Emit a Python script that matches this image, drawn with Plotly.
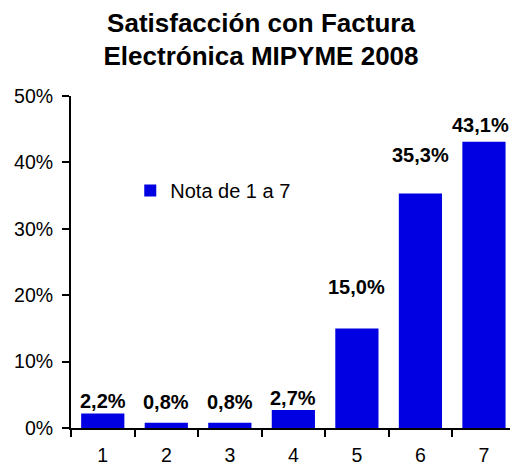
import plotly.graph_objects as go

categories = ["1", "2", "3", "4", "5", "6", "7"]
values = [0.022, 0.008, 0.008, 0.027, 0.150, 0.353, 0.431]
series_name = "Nota de 1 a 7"
title_lines = ["Satisfacción con Factura", "Electrónica MIPYME 2008"]
y_tickvals = [0, 0.1, 0.2, 0.3, 0.4, 0.5]
y_ticktext = ["0%", "10%", "20%", "30%", "40%", "50%"]

# label offsets (px) relative to bar top, as placed in the original
label_shift = [12, 21, 21, 12, 41, 39, 16.5]
label_xshift = [0, 0, 0, 0, 0, 0, -3]

FONT = "Liberation Sans, Arial, sans-serif"

fig = go.Figure()
fig.add_trace(go.Bar(
    x=categories, y=values, name=series_name,
    marker=dict(color="#0000E2", line=dict(width=0)),
    showlegend=True, hoverinfo="skip",
))

for i, (v, s, xs) in enumerate(zip(values, label_shift, label_xshift)):
    fig.add_annotation(
        x=i, y=v, xref="x", yref="y",
        text="<b>" + f"{v*100:.1f}".replace(".", ",") + "%</b>",
        showarrow=False, yanchor="middle", yshift=s, xshift=xs,
        font=dict(family=FONT, size=20, color="black"),
    )

fig.update_layout(
    width=510, height=466,
    paper_bgcolor="white", plot_bgcolor="white",
    margin=dict(l=70.5, r=0, t=96, b=38, autoexpand=False),
    bargap=0.32,
    title=dict(
        text="<b>" + "<br>".join(title_lines) + "</b>",
        x=261 / 510, xref="container", xanchor="center",
        y=0.932, yref="container", yanchor="top",
        font=dict(family=FONT, size=26, color="black"),
    ),
    legend=dict(
        x=0.135, y=0.715, xref="paper", yref="paper",
        xanchor="left", yanchor="middle",
        font=dict(family=FONT, size=20, color="black"),
        bgcolor="rgba(0,0,0,0)",
    ),
    xaxis=dict(
        type="category", range=[-0.5, 6.41], automargin=False,
        showline=True, linecolor="black", linewidth=2,
        ticks="outside", tickson="boundaries", ticklen=7, tickwidth=2, tickcolor="black",
        tickfont=dict(family=FONT, size=19.5, color="black"),
        ticklabelstandoff=9,
        showgrid=False, zeroline=False, fixedrange=True,
    ),
    yaxis=dict(
        range=[0, 0.5], tickvals=y_tickvals, ticktext=y_ticktext, automargin=False,
        showline=True, linecolor="black", linewidth=2,
        ticks="outside", ticklen=7, tickwidth=2, tickcolor="black",
        tickfont=dict(family=FONT, size=19.5, color="black"),
        ticklabelstandoff=5,
        showgrid=False, zeroline=False, fixedrange=True,
    ),
)

fig.write_html("out.html", config={"displayModeBar": False},
               post_script="document.body.style.margin='0';")
